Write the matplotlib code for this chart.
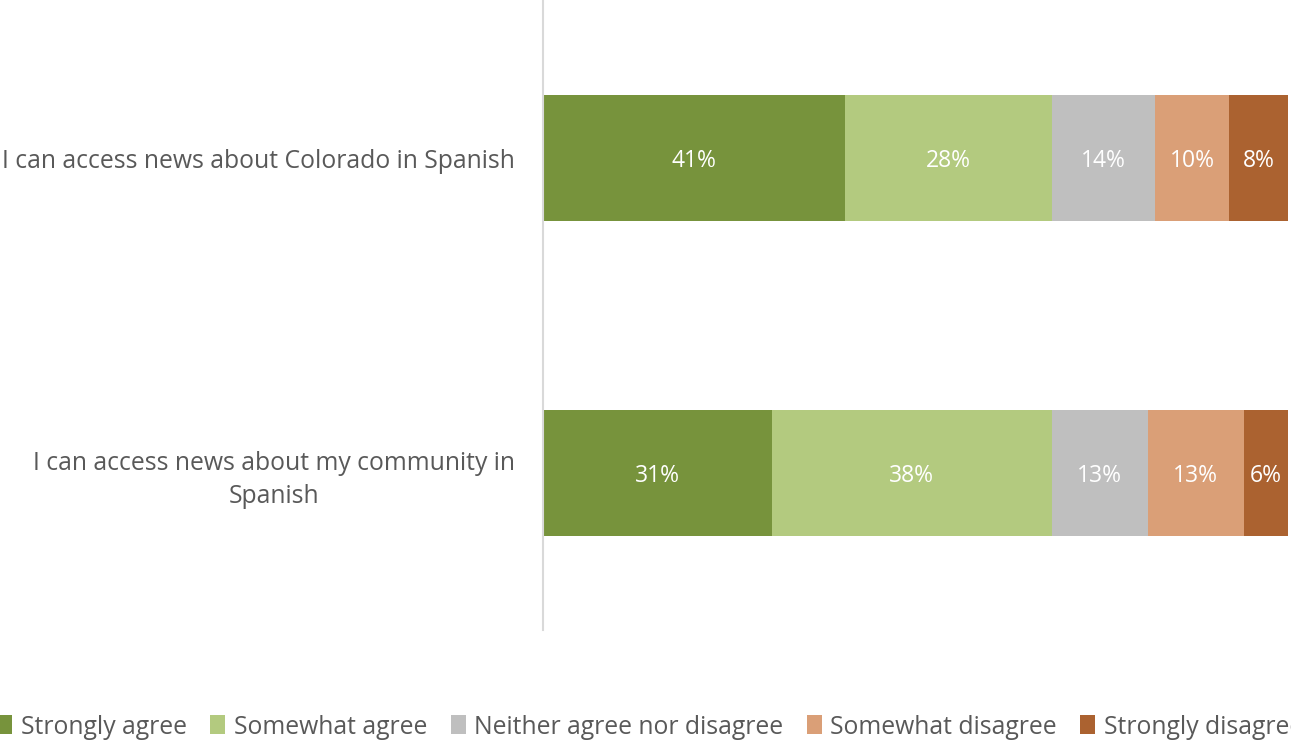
import matplotlib.pyplot as plt
from matplotlib.patches import Patch

plt.rcParams['font.family'] = ['Open Sans', 'DejaVu Sans']

questions = ["I can access news about Colorado in Spanish",
             "I can access news about my community in\nSpanish"]
categories = ["Strongly agree", "Somewhat agree", "Neither agree nor disagree",
              "Somewhat disagree", "Strongly disagree"]
colorado = [41, 28, 14, 10, 8]
community = [31, 38, 13, 13, 6]

colors = ["#77933C", "#B3CA7F", "#BFBFBF", "#DA9F77", "#AB6230"]
text_color = "#595959"

fig = plt.figure(figsize=(12.91, 7.41), dpi=100)
ax = fig.add_axes([543 / 1291, 1 - 630 / 741, 745 / 1291, 629 / 741])

rows = [colorado, community]
ypos = [1, 0]
for y, vals in zip(ypos, rows):
    left = 0
    for v, c in zip(vals, colors):
        ax.barh(y, v, left=left, height=0.4, color=c, edgecolor="none")
        ax.text(left + v / 2, y, f"{v}%", ha="center", va="center_baseline",
                color="white", fontsize=16.5)
        left += v

ax.set_xlim(0, 101)
ax.set_ylim(-0.5, 1.5)
ax.set_yticks(ypos)
ax.set_yticklabels(questions, fontsize=17.8, color=text_color,
                   multialignment="center", linespacing=1.45)
ax.tick_params(axis="y", length=0, pad=20)
ax.set_xticks([])
for s in ["top", "right", "bottom"]:
    ax.spines[s].set_visible(False)
ax.spines["left"].set_color("#D9D9D9")
ax.spines["left"].set_linewidth(1.5)

# legend runs past the right edge, like the original export
handles = [Patch(facecolor=c, edgecolor="none") for c in colors]
leg = fig.legend(handles, categories, loc="center left", ncol=5,
                 bbox_to_anchor=(-0.002, 1 - 727 / 741), frameon=False,
                 fontsize=17.8, handlelength=0.6, handleheight=0.8,
                 handletextpad=0.35, columnspacing=0.95, borderaxespad=0,
                 borderpad=0)
for t in leg.get_texts():
    t.set_color(text_color)

fig.savefig("out.png", dpi=100)
